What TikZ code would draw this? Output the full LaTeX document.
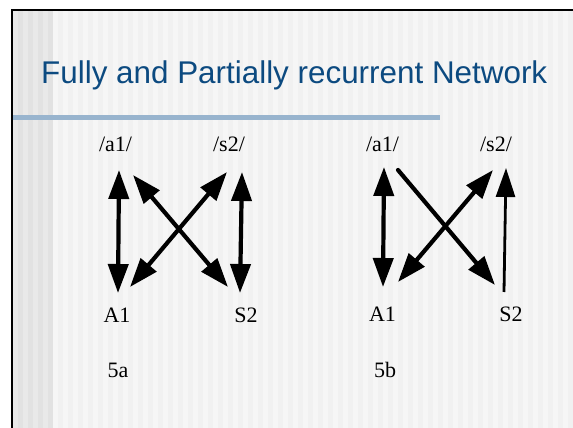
\documentclass[tikz,border=0pt]{standalone}
\usepackage{fontspec}
\setmainfont{Liberation Serif}
\newfontfamily\titlefont{Liberation Sans}
\usetikzlibrary{arrows.meta}
\definecolor{titleblue}{RGB}{12,74,128}
\definecolor{rulebl}{RGB}{152,180,206}
\definecolor{bgA}{RGB}{241,241,241}
\definecolor{bgB}{RGB}{246,246,246}
\definecolor{bgC}{RGB}{226,226,226}
\definecolor{bgD}{RGB}{233,233,233}
\tikzset{
  lbl/.style={anchor=base, inner sep=0pt, font=\fontsize{22}{26}\selectfont},
  conn/.style={line width=4.2pt, -{Triangle[length=29pt,width=20pt]}},
  bconn/.style={line width=4.2pt, {Triangle[length=29pt,width=20pt]}-{Triangle[length=29pt,width=20pt]}},
  thinconn/.style={line width=2.8pt, -{Triangle[length=29pt,width=19pt]}},
}
\begin{document}
\begin{tikzpicture}[x=1pt,y=-1pt]
\useasboundingbox (0,0) rectangle (573,428);
\fill[white] (0,0) rectangle (573,428);
% background stripes
\fill[bgA] (12,10) rectangle (573,428);
\foreach \i in {0,...,52} {
  \fill[bgB] ({53+10*\i},10) rectangle ({58+10*\i},428);
}
\fill[bgC] (12,10) rectangle (53,428);
\foreach \i in {0,...,3} {
  \fill[bgD] ({13+10*\i},10) rectangle ({18+10*\i},428);
}
% frame
\draw[line width=2.4pt] (573,10) -- (12,10) -- (12,428);
% title
\node[anchor=base west, inner sep=0pt, text=titleblue, font=\titlefont\fontsize{31.4}{37}\selectfont] (title) at (41,84) {Fully and Partially recurrent Network};
\fill[rulebl] (13,115) rectangle (440,119.5);
% ---- 5a ----
\node[lbl] (a1a) at (115.5,151) {/a1/};
\node[lbl] (s2a) at (229,151) {/s2/};
\node[lbl] (A1a) at (117,322) {A1};
\node[lbl] (S2a) at (246,322) {S2};
\node[lbl] (capa) at (118,377) {5a};
\coordinate (a1aT) at (119,170);
\coordinate (A1aB) at (118,293);
\coordinate (s2aT) at (242,172);
\coordinate (S2aB) at (240,293);
\coordinate (a1aD) at (133,175);
\coordinate (S2aD) at (228,287);
\coordinate (s2aD) at (227,172);
\coordinate (A1aD) at (130,287);
\draw[bconn] (a1aT) -- (A1aB);
\draw[bconn] (s2aT) -- (S2aB);
\draw[bconn] (a1aD) -- (S2aD);
\draw[bconn] (s2aD) -- (A1aD);
% ---- 5b ----
\node[lbl] (a1b) at (382.5,151) {/a1/};
\node[lbl] (s2b) at (496,151) {/s2/};
\node[lbl] (A1b) at (382.5,321) {A1};
\node[lbl] (S2b) at (511,321) {S2};
\node[lbl] (capb) at (385,377) {5b};
\coordinate (a1bT) at (384,167);
\coordinate (A1bB) at (383,287);
\coordinate (a1bD) at (398,170);
\coordinate (S2bD) at (495,285);
\coordinate (A1bD) at (398,282);
\coordinate (s2bD) at (493,170);
\coordinate (S2bB) at (504,292);
\coordinate (s2bT) at (506,168);
\draw[bconn] (a1bT) -- (A1bB);
\draw[conn, line cap=round] (a1bD) -- (S2bD);
\draw[bconn] (A1bD) -- (s2bD);
\draw[thinconn] (S2bB) -- (s2bT);
\end{tikzpicture}
\end{document}
